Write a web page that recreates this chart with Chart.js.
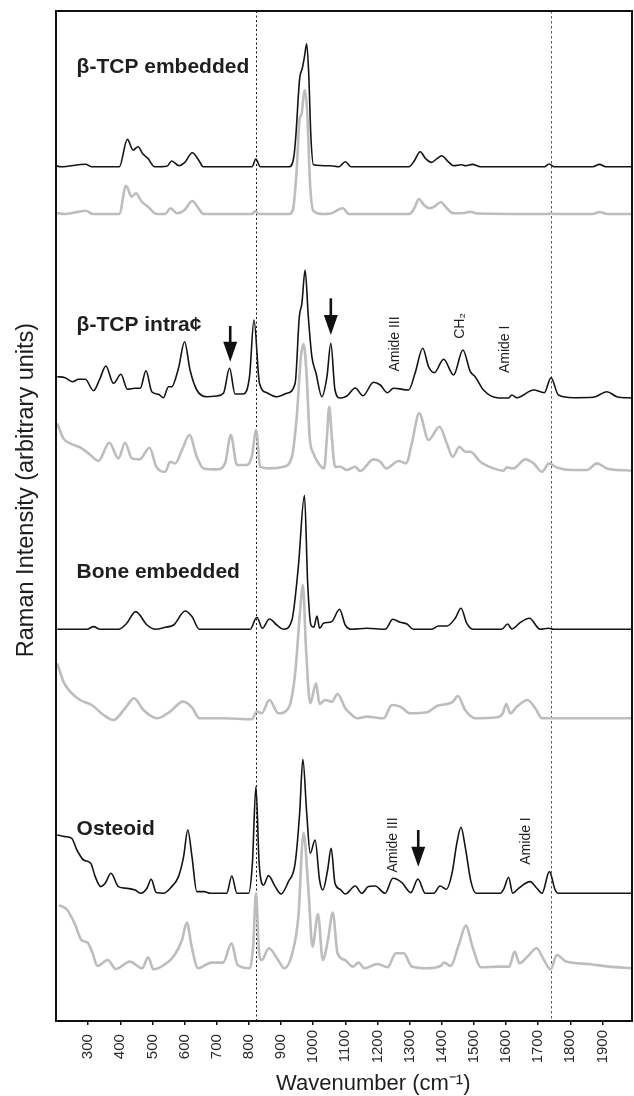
<!DOCTYPE html>
<html>
<head>
<meta charset="utf-8">
<script src="https://cdn.jsdelivr.net/npm/chart.js@4.4.1/dist/chart.umd.min.js"></script>
<style>
html,body{margin:0;padding:0;background:#fff;}
#wrap{width:634px;height:1096px;}
</style>
</head>
<body>
<div id="wrap"><canvas id="c" width="634" height="1096"></canvas></div>
<script>
// ---------- DATA: [wavenumber (cm-1), intensity relative to the trace's own baseline] ----------
const tcpEmbeddedA = [[200,1],[215,0],[292,2.5],[310,0],[397,0],[422,27.3],[440,16.7],[455,20],[470,13],[486,8.3],[507,0],[545,0.5],[560,5.7],[583,1],[600,4],[624,14],[645,6],[658,0],[810,0],[822,7.7],[835,0],[926,0],[940,10],[946,30],[958,88],[966,98],[973,110],[980,123],[986,95],[993,30],[1001,2],[1054,1],[1080,0],[1100,5],[1118,0],[1298,0],[1315,6],[1333,15],[1350,8],[1368,4.3],[1385,8],[1400,11],[1420,5],[1437,1],[1461,2],[1475,1],[1496,2.3],[1520,0],[1720,0],[1734,2.7],[1750,0],[1870,0],[1891,2.3],[1910,0],[1992,0]];
const tcpEmbeddedB = [[200,1],[230,0],[292,3.3],[315,0],[397,0],[418,28.3],[435,17.3],[449,20.7],[465,13],[486,7.3],[513,0],[540,0],[556,5.7],[577,0.7],[600,4],[624,13],[645,5],[658,0],[810,0],[820,3],[830,0],[925,0],[937,4],[948,40],[958,95],[964,100],[973,124],[981,105],[991,27],[1001,3],[1030,0],[1055,0.5],[1092,5.7],[1112,0],[1300,0],[1315,6],[1329,15],[1345,9],[1362,5.7],[1380,8],[1397,12],[1415,6],[1437,0.7],[1470,1],[1490,2.3],[1510,0.5],[1730,0],[1740,0.5],[1750,0],[1870,0],[1891,2],[1915,0],[1992,0]];

const tcpIntraA = [[204,21.3],[228,20.3],[252,16.3],[270,18.7],[291,18.7],[317,7.3],[337,19.7],[355,32],[379,14.7],[402,23.7],[422,8.7],[446,9.7],[462,9.7],[480,27.3],[498,6.3],[519,3.7],[534,0.3],[550,11.3],[560,11.3],[581,29.7],[600,56.3],[617,28],[638,8],[669,1.3],[700,2],[721,4.7],[740,29.7],[757,4],[783,4],[802,21.3],[816,78],[833,14.7],[856,5.3],[887,1.3],[918,4.7],[944,14.7],[957,81.3],[965,94.7],[975,128],[985,81.3],[996,41.3],[1009,24.7],[1027,1.3],[1043,21.3],[1055,54.7],[1068,8],[1084,0],[1105,2],[1131,10],[1155,2.3],[1188,15.7],[1209,13],[1231,5.3],[1250,9.7],[1297,8],[1317,24.7],[1341,49.7],[1359,31.3],[1377,25.3],[1406,38.7],[1437,23],[1466,48],[1489,26.3],[1504,21.3],[1530,8],[1572,0.3],[1608,0],[1618,3],[1634,0.3],[1686,8],[1719,5.3],[1740,20.3],[1763,3],[1810,0.3],[1872,0.7],[1914,6.3],[1945,1.3],[1992,0]];
const tcpIntraB = [[204,47.3],[223,32.3],[244,27.3],[275,23.3],[301,17.3],[332,10],[366,28],[394,12.3],[415,28],[436,12.3],[460,11.3],[491,23],[512,4],[540,-1],[555,9],[571,7.3],[592,20.7],[615,35.7],[638,14],[659,2.3],[700,1.3],[726,7.3],[744,35.7],[763,5.7],[794,5.7],[809,14],[823,40.7],[835,4],[866,2.3],[908,4],[934,14],[949,54],[962,114],[970,126.7],[980,94],[989,34],[1001,17.3],[1017,7.3],[1034,2.3],[1043,34],[1050,64],[1058,34],[1068,4],[1084,4],[1105,0.7],[1131,4],[1146,-0.3],[1188,11.3],[1209,9],[1227,2.3],[1266,9.7],[1289,7.3],[1307,27.3],[1330,57.3],[1359,30.7],[1393,44],[1416,27.3],[1434,14],[1455,24],[1473,19],[1489,19],[1520,9],[1561,2.3],[1592,0],[1603,3.3],[1623,2.3],[1660,11.3],[1686,7.3],[1712,-1],[1734,7.3],[1758,3.3],[1810,0.7],[1852,0.7],[1883,7.3],[1914,2.3],[1992,0]];

const boneEmbeddedA = [[204,0],[296,0],[317,2.7],[337,0],[394,0],[420,6],[448,17.7],[483,4.3],[509,0],[540,2],[566,4.3],[602,18.3],[623,12.7],[646,0],[804,0],[825,12],[842,1],[864,10.3],[887,4.3],[908,0],[934,9.3],[954,62.7],[973,134],[983,46],[993,4.3],[1002,2],[1012,13.3],[1020,1],[1032,6],[1058,7.7],[1082,20],[1100,4.3],[1120,0],[1167,1],[1224,0],[1248,10],[1271,7],[1292,5.3],[1312,0],[1369,0],[1390,3.3],[1416,3.3],[1442,11],[1460,21],[1478,6],[1499,0],[1587,0],[1605,5.3],[1618,0.3],[1644,6.7],[1673,11],[1706,0],[1732,1],[1748,0],[1992,0]];
const boneEmbeddedB = [[204,55],[223,36.7],[244,26.7],[275,18.3],[311,13.3],[348,3.3],[379,-1.7],[415,10],[443,20],[472,8.3],[514,0],[555,6.7],[595,16.7],[623,11],[646,0],[721,0],[809,-1],[825,6.7],[840,5],[864,18.3],[892,5],[923,10],[944,45],[958,101.7],[968,133.3],[978,68.3],[991,15],[1009,35],[1020,14.3],[1037,18.3],[1058,16.7],[1076,24.3],[1100,10],[1115,5],[1136,0],[1167,1.7],[1219,0],[1245,13.3],[1271,11.7],[1302,5],[1354,6],[1385,12.3],[1416,14.3],[1435,16.7],[1450,22.3],[1473,8.3],[1504,0],[1572,1],[1590,5],[1601,14.3],[1613,5],[1634,11.7],[1667,18.3],[1691,10],[1712,0],[1992,0]];

const osteoidA = [[204,58.3],[228,56.7],[249,55],[265,43.3],[286,33.3],[308,30],[322,16.7],[339,6.7],[353,10],[371,20],[394,6.7],[420,5],[446,3.3],[464,0],[483,5],[496,14],[512,0.7],[534,0],[560,6.7],[581,16.7],[597,36.7],[610,63.3],[623,36.7],[638,1.7],[661,1.7],[680,0],[731,0],[747,17.3],[763,0],[799,0],[811,30],[822,106.7],[832,30],[846,8.3],[861,17.7],[882,6.7],[900,-0.7],[923,11.7],[944,30],[958,80],[968,134],[980,80],[991,40],[1006,53.3],[1020,13.3],[1030,3.3],[1045,23.3],[1056,45],[1068,10],[1084,4],[1100,-0.7],[1131,7.3],[1151,0],[1172,6.7],[1193,7.3],[1224,0],[1248,15],[1276,10.7],[1304,0.7],[1326,14.3],[1349,0],[1375,0],[1395,7.3],[1414,4],[1432,20],[1447,50],[1460,66],[1473,46.7],[1491,11.7],[1507,0],[1582,0],[1594,5],[1608,16],[1621,0],[1639,5],[1675,11.7],[1696,5],[1712,0],[1735,21.7],[1753,3.3],[1763,0],[1992,0]];
const osteoidB = [[209,63.3],[235,58.3],[260,43.3],[279,28.3],[298,25.7],[314,15],[329,2.3],[361,8.3],[386,-0.7],[430,6.7],[468,0],[487,11],[503,-1],[531,2.3],[569,13.3],[592,28.3],[607,45.7],[622,21.7],[642,0],[683,5.7],[720,5.7],[746,25],[765,3.3],[803,0],[814,25],[822,75],[832,15],[840,8.3],[862,20],[891,8.3],[910,0],[935,15],[954,51.7],[970,135.5],[986,75],[998,21.7],[1015,54.3],[1030,8.3],[1046,28.3],[1061,55.7],[1076,15],[1099,8.3],[1124,1.7],[1141,5.7],[1160,0],[1200,4.3],[1232,1],[1257,15],[1282,15],[1307,1.7],[1352,0],[1396,2.3],[1408,5.7],[1427,2.3],[1453,23.3],[1475,42.7],[1497,20],[1522,1],[1579,1.7],[1610,1.7],[1627,16.7],[1642,5],[1667,11.7],[1695,20],[1718,8.3],[1739,-1],[1758,13.3],[1787,6.7],[1856,4.3],[1920,1.7],[1992,0]];

// vertical stacking offsets of each trace (arbitrary units)
const stackOffsets = {tcpEmbeddedA:854.3, tcpEmbeddedB:807, tcpIntraA:623, tcpIntraB:550.3, boneEmbeddedA:391.7, boneEmbeddedB:302.7, osteoidA:127.7, osteoidB:52.7};

const xTickValues = [300,400,500,600,700,800,900,1000,1100,1200,1300,1400,1500,1600,1700,1800,1900];
const guideLines = [822, 1740];

const xTitle = 'Wavenumber (cm⁻¹)';
const yTitle = 'Raman Intensity (arbitrary units)';

const sectionLabels = ['β-TCP embedded', 'β-TCP intra¢', 'Bone embedded', 'Osteoid'];
const sectionLabelY = [953.8, 696, 448.5, 191.8];
const sectionLabelX = 264;

const bandLabels = ['Amide III', 'CH₂', 'Amide I', 'Amide III', 'Amide I'];
const bandLabelX = [1254, 1458, 1597, 1249, 1662];
const bandLabelY = [677, 695, 671.7, 176, 180];

const arrowX = [742, 1055, 1327];
const arrowTop = [695, 722.7, 191];
const arrowTip = [659.3, 686, 154.3];

// ---------- CHART ----------
const FAMILY = '"Liberation Sans", Arial, Helvetica, sans-serif';
function toPoints(arr, off) { return arr.map(p => ({x: p[0], y: p[1] + off})); }

const traces = [
  ['tcpEmbeddedA', tcpEmbeddedA, 'A'], ['tcpIntraA', tcpIntraA, 'A'], ['boneEmbeddedA', boneEmbeddedA, 'A'], ['osteoidA', osteoidA, 'A'],
  ['tcpEmbeddedB', tcpEmbeddedB, 'B'], ['tcpIntraB', tcpIntraB, 'B'], ['boneEmbeddedB', boneEmbeddedB, 'B'], ['osteoidB', osteoidB, 'B']
];
const datasets = traces.map(([name, arr, kind]) => ({
  label: name,
  data: toPoints(arr, stackOffsets[name]),
  borderColor: kind === 'A' ? '#141414' : '#bdbdbd',
  borderWidth: kind === 'A' ? 1.6 : 2.6,
  pointRadius: 0,
  cubicInterpolationMode: 'monotone',
  borderJoinStyle: 'round',
  fill: false
}));

const decor = {
  id: 'decor',
  beforeDatasetsDraw(chart) {
    const {ctx, chartArea: a, scales: {x}} = chart;
    ctx.save();
    guideLines.forEach((g, i) => {
      const px = Math.round(x.getPixelForValue(g)) + 0.5;
      ctx.strokeStyle = i === 0 ? '#111' : '#555';
      ctx.lineWidth = 1;
      ctx.setLineDash(i === 0 ? [2, 2.5] : [2.5, 2.5]);
      ctx.beginPath(); ctx.moveTo(px, a.top); ctx.lineTo(px, a.bottom); ctx.stroke();
    });
    ctx.restore();
  },
  afterDatasetsDraw(chart) {
    const {ctx, chartArea: a, scales: {x, y}} = chart;
    ctx.save();
    // frame
    ctx.strokeStyle = '#111'; ctx.lineWidth = 2; ctx.setLineDash([]);
    ctx.strokeRect(a.left, a.top, a.right - a.left, a.bottom - a.top);
    // section labels
    ctx.fillStyle = '#1e1e1e';
    ctx.font = 'bold 21px ' + FAMILY;
    ctx.textAlign = 'left'; ctx.textBaseline = 'middle';
    sectionLabels.forEach((t, i) => ctx.fillText(t, x.getPixelForValue(sectionLabelX), y.getPixelForValue(sectionLabelY[i])));
    // band labels (rotated)
    ctx.font = '14px ' + FAMILY;
    ctx.textAlign = 'center';
    bandLabels.forEach((t, i) => {
      ctx.save();
      ctx.translate(x.getPixelForValue(bandLabelX[i]), y.getPixelForValue(bandLabelY[i]));
      ctx.rotate(-Math.PI / 2);
      ctx.fillText(t, 0, 0);
      ctx.restore();
    });
    // arrows
    ctx.fillStyle = '#111'; ctx.strokeStyle = '#111';
    arrowX.forEach((v, i) => {
      const px = x.getPixelForValue(v);
      const top = y.getPixelForValue(arrowTop[i]);
      const tip = y.getPixelForValue(arrowTip[i]);
      const headLen = 20, headHalf = 7;
      ctx.lineWidth = 2.6;
      ctx.beginPath(); ctx.moveTo(px, top); ctx.lineTo(px, tip - headLen + 1); ctx.stroke();
      ctx.beginPath();
      ctx.moveTo(px - headHalf, tip - headLen);
      ctx.lineTo(px + headHalf, tip - headLen);
      ctx.lineTo(px, tip);
      ctx.closePath(); ctx.fill();
    });
    // axis titles
    ctx.fillStyle = '#1e1e1e';
    ctx.textAlign = 'center'; ctx.textBaseline = 'alphabetic';
    ctx.font = '22px ' + FAMILY;
    ctx.fillText(xTitle, x.getPixelForValue(1187), a.bottom + 68.5);
    ctx.font = '23.5px ' + FAMILY;
    ctx.save();
    ctx.translate(a.left - 23, y.getPixelForValue(531));
    ctx.rotate(-Math.PI / 2);
    ctx.fillText(yTitle, 0, 0);
    ctx.restore();
    ctx.restore();
  }
};

new Chart(document.getElementById('c'), {
  type: 'line',
  data: {datasets},
  options: {
    responsive: false,
    animation: false,
    devicePixelRatio: 1,
    layout: {padding: {top: 11, right: 2, bottom: 0, left: 0}},
    plugins: {legend: {display: false}, tooltip: {enabled: false}},
    scales: {
      x: {
        type: 'linear', min: 200, max: 1992,
        afterBuildTicks(scale) { scale.ticks = xTickValues.map(v => ({value: v})); },
        afterFit(scale) { scale.height = 75; },
        ticks: {
          minRotation: 90, maxRotation: 90, autoSkip: false, padding: 5,
          color: '#2a2a2a', font: {size: 15, family: FAMILY},
          callback: v => (v < 1000 ? v + ' ' : String(v))
        },
        grid: {display: true, drawOnChartArea: false, drawTicks: true, tickLength: 4, color: '#111', lineWidth: 1.5},
        border: {display: false},
        title: {display: false}
      },
      y: {
        type: 'linear', min: 0, max: 1010,
        afterFit(scale) { scale.width = 56; },
        ticks: {display: false},
        grid: {display: false},
        border: {display: false},
        title: {display: false}
      }
    }
  },
  plugins: [decor]
});
</script>
</body>
</html>
